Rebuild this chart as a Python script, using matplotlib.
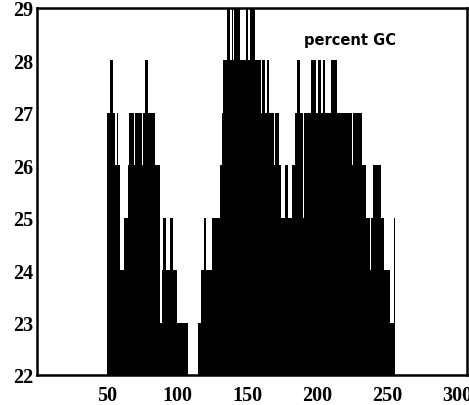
import numpy as np
import matplotlib
matplotlib.use("Agg")
from matplotlib import pyplot as plt

# percent GC per window position
left_start = 50
left_values = [27, 27, 28, 28, 27, 27, 26, 27, 26, 24,
               24, 24, 25, 25, 25, 26, 27, 27, 27, 26,
               27, 27, 27, 27, 27, 26, 27, 28, 28, 27,
               27, 27, 27, 27, 26, 26, 26, 26, 23, 24,
               25, 25, 24, 24, 24, 25, 25, 24, 24, 24,
               23, 23, 23, 23, 23, 23, 23, 23]

right_start = 115
right_values = [23, 23, 24, 24, 25, 25, 24, 24, 24, 24,
                25, 25, 25, 25, 25, 25, 26, 27, 28, 28,
                28, 29, 29, 28, 29, 28, 29, 29, 29, 29,
                28, 28, 28, 28, 29, 29, 28, 29, 29, 29,
                29, 28, 28, 28, 28, 27, 28, 28, 27, 28,
                28, 27, 27, 27, 26, 27, 27, 27, 26, 25,
                25, 25, 26, 26, 25, 25, 25, 26, 26, 27,
                27, 28, 28, 27, 27, 25, 27, 27, 27, 27,
                27, 28, 28, 28, 27, 27, 28, 28, 27, 28,
                28, 27, 27, 27, 27, 28, 28, 28, 28, 27,
                27, 27, 27, 27, 27, 27, 27, 27, 27, 27,
                26, 27, 27, 27, 27, 27, 27, 26, 26, 26,
                25, 25, 25, 24, 25, 26, 26, 26, 26, 26,
                26, 25, 25, 24, 24, 24, 24, 23, 23, 23,
                25]

x_ticks = [50, 100, 150, 200, 250, 300]
y_ticks = [22, 23, 24, 25, 26, 27, 28, 29]

fig = plt.figure(figsize=(4.69, 4.06), dpi=100)
ax = fig.add_axes([0.079, 0.074, 0.916, 0.904])

for start, vals in [(left_start, left_values), (right_start, right_values)]:
    edges = np.arange(start, start + len(vals) + 1)
    ax.stairs(vals, edges, baseline=22, fill=True, color='black', lw=0)

ax.set_xlim(0, 307)
ax.set_ylim(22, 29)
ax.set_xticks(x_ticks)
ax.set_yticks(y_ticks)
ax.tick_params(length=0)
ax.tick_params(axis='x', pad=7)
ax.tick_params(axis='y', pad=3)
for lab in ax.get_xticklabels() + ax.get_yticklabels():
    lab.set_fontfamily('Liberation Serif')
    lab.set_fontweight('bold')
    lab.set_fontsize(14.5)
for s in ax.spines.values():
    s.set_linewidth(1.8)

ax.text(0.728, 0.915, 'percent GC', transform=ax.transAxes, ha='center', va='center',
        fontsize=10.5, fontweight='bold', family='DejaVu Sans')

fig.savefig('out.png', dpi=100)
